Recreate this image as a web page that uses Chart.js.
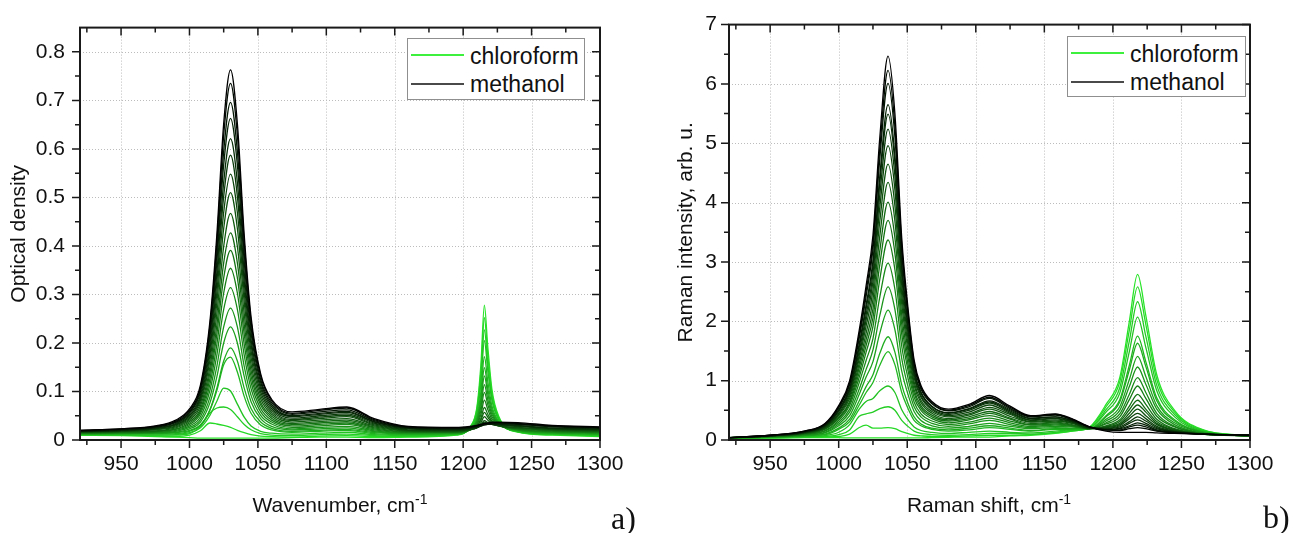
<!DOCTYPE html>
<html>
<head>
<meta charset="utf-8">
<title>Optical density and Raman spectra, chloroform / methanol</title>
<script src="https://cdn.jsdelivr.net/npm/chart.js@4.4.1/dist/chart.umd.min.js"></script>
<style>
  html, body { margin: 0; padding: 0; background: #fff; }
  body {
    position: relative; width: 1293px; height: 533px; overflow: hidden;
    font-family: 'Liberation Sans', Arial, sans-serif; color: #111;
  }
  canvas { position: absolute; top: 0; }
  #odChart { left: 0; }
  #ramanChart { left: 640px; }
  .x-title {
    position: absolute; top: 494px; font-size: 21px; line-height: 21px;
    white-space: nowrap; transform: translateX(-50%);
  }
  .x-title sup { font-size: 14px; line-height: 0; vertical-align: 8px; }
  .panel-tag {
    position: absolute; font-family: 'Liberation Serif', 'Times New Roman', serif;
    font-size: 32px; line-height: 32px;
  }
  .legend { position: absolute; box-sizing: border-box; border: 1px solid #8f8f8f; background: #fff; }
  .legend .swatch { position: absolute; left: 3px; width: 53px; height: 2px; }
  .legend .label { position: absolute; left: 62px; font-size: 23px; line-height: 23px; white-space: nowrap; }
</style>
</head>
<body>
<canvas id="odChart" width="640" height="533"></canvas>
<canvas id="ramanChart" width="653" height="533"></canvas>

<div class="x-title" style="left:340px">Wavenumber, cm<sup>-1</sup></div>
<div class="x-title" style="left:989px">Raman shift, cm<sup>-1</sup></div>
<div class="panel-tag" style="left:611px; top:502px">a)</div>
<div class="panel-tag" style="left:1263px; top:501px">b)</div>

<div class="legend" style="left:407px; top:38px; width:178px; height:62px">
  <div class="swatch" style="top:15px; background:#3ef03e"></div>
  <div class="label" style="top:6px">chloroform</div>
  <div class="swatch" style="top:44px; background:#4a4a4a"></div>
  <div class="label" style="top:34px">methanol</div>
</div>
<div class="legend" style="left:1067px; top:36px; width:179px; height:61px">
  <div class="swatch" style="top:15px; background:#3ef03e"></div>
  <div class="label" style="top:6px">chloroform</div>
  <div class="swatch" style="top:44px; background:#4a4a4a"></div>
  <div class="label" style="top:34px">methanol</div>
</div>

<script>
// panel a: IR optical density, 21 mixtures from pure chloroform (0) to pure methanol (20)
const WAVENUMBER_A = [920, 950, 975, 990, 1000, 1008, 1015, 1020, 1025, 1030, 1035, 1040, 1045, 1052, 1060,
  1075, 1095, 1115, 1135, 1160, 1195, 1205, 1210, 1213, 1215.5, 1218, 1221, 1226, 1240, 1265, 1300];

const OD_0 = [0.010, 0.009, 0.007, 0.006, 0.005, 0.004, 0.004, 0.004, 0.004, 0.004, 0.004, 0.004, 0.004, 0.004, 0.004, 0.005, 0.006, 0.006, 0.005, 0.006, 0.010, 0.027, 0.067, 0.157, 0.278, 0.192, 0.105, 0.049, 0.016, 0.010, 0.007];
const OD_1 = [0.010, 0.010, 0.008, 0.007, 0.010, 0.019, 0.035, 0.033, 0.030, 0.026, 0.020, 0.015, 0.011, 0.008, 0.007, 0.006, 0.008, 0.009, 0.007, 0.007, 0.011, 0.026, 0.063, 0.143, 0.252, 0.175, 0.097, 0.046, 0.017, 0.011, 0.008];
const OD_2 = [0.011, 0.010, 0.010, 0.010, 0.013, 0.028, 0.056, 0.066, 0.068, 0.063, 0.048, 0.032, 0.021, 0.013, 0.010, 0.009, 0.011, 0.012, 0.009, 0.008, 0.011, 0.025, 0.058, 0.130, 0.227, 0.158, 0.089, 0.044, 0.017, 0.012, 0.009];
const OD_3 = [0.011, 0.011, 0.010, 0.011, 0.015, 0.025, 0.051, 0.080, 0.107, 0.101, 0.074, 0.047, 0.029, 0.018, 0.014, 0.012, 0.014, 0.016, 0.011, 0.009, 0.012, 0.025, 0.054, 0.118, 0.205, 0.143, 0.082, 0.041, 0.018, 0.012, 0.010];
const OD_4 = [0.012, 0.012, 0.012, 0.013, 0.018, 0.030, 0.062, 0.102, 0.155, 0.171, 0.140, 0.090, 0.055, 0.031, 0.021, 0.016, 0.018, 0.020, 0.013, 0.011, 0.012, 0.023, 0.047, 0.100, 0.172, 0.121, 0.071, 0.038, 0.018, 0.013, 0.011];
const OD_5 = [0.012, 0.013, 0.013, 0.015, 0.020, 0.031, 0.063, 0.107, 0.163, 0.190, 0.163, 0.107, 0.065, 0.037, 0.024, 0.018, 0.020, 0.022, 0.015, 0.012, 0.013, 0.022, 0.043, 0.088, 0.149, 0.106, 0.064, 0.036, 0.019, 0.014, 0.012];
const OD_6 = [0.013, 0.013, 0.014, 0.016, 0.023, 0.037, 0.077, 0.130, 0.200, 0.233, 0.200, 0.131, 0.079, 0.044, 0.028, 0.021, 0.023, 0.025, 0.017, 0.013, 0.014, 0.022, 0.040, 0.079, 0.132, 0.095, 0.058, 0.034, 0.020, 0.015, 0.013];
const OD_7 = [0.013, 0.014, 0.015, 0.018, 0.026, 0.042, 0.089, 0.152, 0.233, 0.272, 0.233, 0.152, 0.092, 0.051, 0.033, 0.023, 0.026, 0.028, 0.019, 0.014, 0.014, 0.022, 0.037, 0.070, 0.114, 0.083, 0.053, 0.033, 0.021, 0.016, 0.014];
const OD_8 = [0.014, 0.015, 0.016, 0.020, 0.029, 0.048, 0.103, 0.175, 0.269, 0.314, 0.269, 0.175, 0.106, 0.058, 0.037, 0.026, 0.029, 0.032, 0.021, 0.015, 0.015, 0.021, 0.034, 0.061, 0.098, 0.073, 0.048, 0.032, 0.021, 0.017, 0.015];
const OD_9 = [0.014, 0.015, 0.017, 0.022, 0.032, 0.054, 0.115, 0.197, 0.303, 0.354, 0.303, 0.197, 0.119, 0.065, 0.041, 0.029, 0.032, 0.035, 0.023, 0.016, 0.016, 0.021, 0.031, 0.053, 0.082, 0.063, 0.043, 0.031, 0.022, 0.018, 0.016];
const OD_10 = [0.015, 0.016, 0.018, 0.023, 0.035, 0.059, 0.127, 0.218, 0.334, 0.391, 0.334, 0.218, 0.131, 0.072, 0.045, 0.032, 0.035, 0.038, 0.025, 0.017, 0.017, 0.021, 0.029, 0.045, 0.067, 0.053, 0.039, 0.030, 0.023, 0.019, 0.017];
const OD_11 = [0.015, 0.017, 0.019, 0.025, 0.038, 0.064, 0.139, 0.237, 0.365, 0.427, 0.365, 0.238, 0.143, 0.078, 0.049, 0.034, 0.038, 0.041, 0.027, 0.018, 0.017, 0.021, 0.028, 0.041, 0.057, 0.047, 0.036, 0.029, 0.024, 0.020, 0.018];
const OD_12 = [0.016, 0.018, 0.021, 0.027, 0.041, 0.070, 0.151, 0.260, 0.399, 0.467, 0.399, 0.260, 0.156, 0.085, 0.053, 0.037, 0.041, 0.044, 0.029, 0.019, 0.018, 0.021, 0.026, 0.036, 0.048, 0.041, 0.034, 0.029, 0.025, 0.021, 0.019];
const OD_13 = [0.016, 0.018, 0.022, 0.029, 0.044, 0.076, 0.165, 0.283, 0.436, 0.510, 0.436, 0.284, 0.170, 0.092, 0.057, 0.040, 0.044, 0.048, 0.031, 0.020, 0.019, 0.022, 0.025, 0.032, 0.040, 0.036, 0.032, 0.029, 0.026, 0.022, 0.020];
const OD_14 = [0.017, 0.019, 0.023, 0.031, 0.047, 0.082, 0.177, 0.304, 0.469, 0.548, 0.469, 0.305, 0.183, 0.099, 0.061, 0.042, 0.047, 0.051, 0.033, 0.021, 0.020, 0.022, 0.025, 0.031, 0.037, 0.034, 0.032, 0.030, 0.028, 0.023, 0.021];
const OD_15 = [0.018, 0.020, 0.024, 0.032, 0.050, 0.087, 0.189, 0.326, 0.502, 0.587, 0.502, 0.326, 0.196, 0.106, 0.065, 0.045, 0.050, 0.054, 0.035, 0.023, 0.021, 0.023, 0.026, 0.029, 0.034, 0.033, 0.032, 0.031, 0.029, 0.024, 0.022];
const OD_16 = [0.018, 0.020, 0.025, 0.034, 0.053, 0.092, 0.200, 0.345, 0.531, 0.621, 0.531, 0.345, 0.207, 0.112, 0.069, 0.048, 0.053, 0.057, 0.037, 0.024, 0.022, 0.024, 0.026, 0.029, 0.031, 0.032, 0.032, 0.032, 0.030, 0.025, 0.023];
const OD_17 = [0.018, 0.021, 0.026, 0.036, 0.056, 0.098, 0.214, 0.368, 0.567, 0.663, 0.567, 0.368, 0.221, 0.119, 0.073, 0.050, 0.055, 0.059, 0.038, 0.025, 0.023, 0.025, 0.027, 0.029, 0.031, 0.032, 0.032, 0.033, 0.032, 0.027, 0.024];
const OD_18 = [0.019, 0.022, 0.027, 0.037, 0.058, 0.103, 0.224, 0.386, 0.595, 0.696, 0.595, 0.386, 0.232, 0.125, 0.077, 0.053, 0.058, 0.062, 0.040, 0.026, 0.024, 0.026, 0.028, 0.030, 0.033, 0.033, 0.034, 0.035, 0.033, 0.028, 0.025];
const OD_19 = [0.020, 0.023, 0.028, 0.039, 0.061, 0.108, 0.237, 0.407, 0.628, 0.735, 0.628, 0.408, 0.245, 0.132, 0.081, 0.055, 0.061, 0.066, 0.042, 0.027, 0.025, 0.027, 0.029, 0.031, 0.033, 0.034, 0.035, 0.036, 0.034, 0.029, 0.026];
const OD_20 = [0.020, 0.023, 0.029, 0.041, 0.064, 0.113, 0.246, 0.423, 0.652, 0.763, 0.652, 0.423, 0.254, 0.137, 0.084, 0.058, 0.063, 0.068, 0.044, 0.028, 0.026, 0.028, 0.030, 0.032, 0.034, 0.035, 0.037, 0.037, 0.036, 0.030, 0.027];

// panel b: Raman spectra of the same mixtures
const WAVENUMBER_B = [920, 950, 975, 990, 1000, 1008, 1015, 1020, 1025, 1030, 1036, 1041, 1046, 1050, 1055, 1060,
  1068, 1080, 1095, 1110, 1125, 1140, 1158, 1170, 1183, 1195, 1205, 1212, 1218, 1224, 1232, 1245, 1265, 1300];

const RS_0 = [0.03, 0.035, 0.04, 0.04, 0.04, 0.035, 0.035, 0.035, 0.035, 0.035, 0.035, 0.035, 0.035, 0.035, 0.035, 0.035, 0.04, 0.045, 0.05, 0.05, 0.07, 0.08, 0.11, 0.15, 0.22, 0.60, 1.05, 2.00, 2.79, 2.10, 1.10, 0.50, 0.18, 0.07];
const RS_1 = [0.03, 0.035, 0.045, 0.05, 0.06, 0.10, 0.21, 0.25, 0.20, 0.20, 0.21, 0.19, 0.14, 0.11, 0.08, 0.07, 0.06, 0.06, 0.07, 0.08, 0.08, 0.09, 0.12, 0.15, 0.21, 0.56, 0.98, 1.85, 2.58, 1.95, 1.02, 0.47, 0.17, 0.07];
const RS_2 = [0.03, 0.037, 0.048, 0.06, 0.09, 0.17, 0.40, 0.44, 0.47, 0.53, 0.56, 0.50, 0.33, 0.24, 0.15, 0.11, 0.09, 0.08, 0.09, 0.11, 0.11, 0.10, 0.13, 0.16, 0.20, 0.51, 0.88, 1.67, 2.33, 1.75, 0.92, 0.43, 0.16, 0.07];
const RS_3 = [0.03, 0.04, 0.055, 0.075, 0.13, 0.26, 0.52, 0.65, 0.70, 0.83, 0.91, 0.80, 0.51, 0.36, 0.22, 0.16, 0.13, 0.11, 0.13, 0.15, 0.13, 0.12, 0.15, 0.17, 0.20, 0.47, 0.79, 1.49, 2.07, 1.56, 0.83, 0.39, 0.15, 0.07];
const RS_4 = [0.03, 0.05, 0.07, 0.09, 0.18, 0.31, 0.59, 0.80, 0.97, 1.26, 1.49, 1.27, 0.80, 0.56, 0.33, 0.24, 0.18, 0.15, 0.17, 0.21, 0.18, 0.15, 0.18, 0.18, 0.19, 0.41, 0.68, 1.26, 1.75, 1.32, 0.71, 0.34, 0.14, 0.07];
const RS_5 = [0.03, 0.05, 0.07, 0.10, 0.20, 0.35, 0.66, 0.90, 1.10, 1.46, 1.74, 1.48, 0.93, 0.65, 0.39, 0.27, 0.20, 0.17, 0.20, 0.24, 0.20, 0.16, 0.19, 0.19, 0.19, 0.39, 0.64, 1.18, 1.63, 1.24, 0.66, 0.32, 0.14, 0.07];
const RS_6 = [0.03, 0.05, 0.08, 0.12, 0.24, 0.41, 0.77, 1.06, 1.32, 1.80, 2.19, 1.86, 1.16, 0.81, 0.48, 0.33, 0.24, 0.20, 0.23, 0.28, 0.23, 0.19, 0.21, 0.20, 0.19, 0.35, 0.56, 1.02, 1.41, 1.07, 0.58, 0.29, 0.13, 0.07];
const RS_7 = [0.04, 0.05, 0.08, 0.13, 0.27, 0.47, 0.86, 1.19, 1.52, 2.10, 2.58, 2.20, 1.37, 0.95, 0.56, 0.39, 0.28, 0.23, 0.27, 0.33, 0.26, 0.21, 0.23, 0.22, 0.19, 0.32, 0.50, 0.90, 1.23, 0.94, 0.52, 0.26, 0.12, 0.07];
const RS_8 = [0.04, 0.06, 0.09, 0.15, 0.30, 0.52, 0.97, 1.34, 1.71, 2.41, 2.98, 2.54, 1.58, 1.10, 0.64, 0.44, 0.32, 0.26, 0.30, 0.37, 0.29, 0.23, 0.25, 0.23, 0.19, 0.29, 0.44, 0.77, 1.05, 0.80, 0.45, 0.23, 0.11, 0.07];
const RS_9 = [0.04, 0.06, 0.10, 0.16, 0.33, 0.58, 1.06, 1.48, 1.91, 2.71, 3.37, 2.87, 1.78, 1.24, 0.72, 0.50, 0.36, 0.29, 0.34, 0.41, 0.32, 0.25, 0.27, 0.24, 0.19, 0.27, 0.39, 0.68, 0.91, 0.70, 0.40, 0.22, 0.11, 0.07];
const RS_10 = [0.04, 0.06, 0.10, 0.18, 0.36, 0.62, 1.14, 1.59, 2.06, 2.96, 3.70, 3.15, 1.95, 1.35, 0.79, 0.54, 0.39, 0.32, 0.36, 0.45, 0.35, 0.26, 0.29, 0.25, 0.19, 0.24, 0.34, 0.57, 0.77, 0.60, 0.35, 0.19, 0.11, 0.07];
const RS_11 = [0.04, 0.06, 0.11, 0.19, 0.38, 0.65, 1.22, 1.69, 2.21, 3.19, 4.01, 3.41, 2.11, 1.47, 0.85, 0.58, 0.42, 0.34, 0.39, 0.48, 0.37, 0.28, 0.30, 0.26, 0.19, 0.23, 0.31, 0.51, 0.67, 0.52, 0.31, 0.18, 0.10, 0.07];
const RS_12 = [0.04, 0.07, 0.11, 0.20, 0.41, 0.70, 1.29, 1.80, 2.37, 3.44, 4.34, 3.69, 2.29, 1.59, 0.92, 0.63, 0.45, 0.36, 0.42, 0.52, 0.40, 0.30, 0.32, 0.28, 0.19, 0.22, 0.28, 0.45, 0.59, 0.47, 0.28, 0.17, 0.10, 0.07];
const RS_13 = [0.04, 0.07, 0.12, 0.21, 0.43, 0.74, 1.37, 1.92, 2.52, 3.69, 4.65, 3.95, 2.45, 1.70, 0.98, 0.67, 0.48, 0.39, 0.44, 0.55, 0.43, 0.31, 0.34, 0.29, 0.20, 0.21, 0.26, 0.40, 0.52, 0.41, 0.26, 0.16, 0.10, 0.07];
const RS_14 = [0.04, 0.07, 0.12, 0.22, 0.45, 0.78, 1.43, 2.02, 2.67, 3.92, 4.96, 4.22, 2.61, 1.81, 1.05, 0.72, 0.51, 0.41, 0.47, 0.59, 0.45, 0.33, 0.36, 0.30, 0.20, 0.20, 0.24, 0.36, 0.45, 0.36, 0.23, 0.15, 0.10, 0.08];
const RS_15 = [0.04, 0.07, 0.13, 0.23, 0.48, 0.82, 1.50, 2.11, 2.80, 4.13, 5.24, 4.45, 2.76, 1.91, 1.10, 0.75, 0.53, 0.43, 0.50, 0.62, 0.47, 0.34, 0.37, 0.31, 0.20, 0.19, 0.22, 0.31, 0.39, 0.32, 0.21, 0.14, 0.10, 0.08];
const RS_16 = [0.04, 0.07, 0.13, 0.24, 0.50, 0.85, 1.57, 2.21, 2.93, 4.33, 5.49, 4.67, 2.89, 2.00, 1.15, 0.79, 0.56, 0.45, 0.52, 0.64, 0.49, 0.36, 0.39, 0.32, 0.21, 0.18, 0.20, 0.28, 0.34, 0.28, 0.19, 0.14, 0.10, 0.08];
const RS_17 = [0.04, 0.07, 0.14, 0.25, 0.51, 0.88, 1.62, 2.28, 3.02, 4.45, 5.65, 4.80, 2.97, 2.06, 1.19, 0.81, 0.57, 0.46, 0.53, 0.66, 0.51, 0.37, 0.39, 0.33, 0.21, 0.17, 0.19, 0.24, 0.29, 0.25, 0.17, 0.13, 0.10, 0.08];
const RS_18 = [0.04, 0.08, 0.14, 0.26, 0.54, 0.93, 1.72, 2.42, 3.21, 4.74, 6.01, 5.11, 3.16, 2.19, 1.26, 0.86, 0.61, 0.49, 0.56, 0.70, 0.53, 0.39, 0.42, 0.34, 0.22, 0.17, 0.17, 0.22, 0.25, 0.22, 0.16, 0.13, 0.10, 0.08];
const RS_19 = [0.04, 0.08, 0.15, 0.27, 0.56, 0.96, 1.78, 2.51, 3.32, 4.91, 6.23, 5.29, 3.27, 2.27, 1.30, 0.89, 0.63, 0.50, 0.58, 0.72, 0.55, 0.40, 0.43, 0.35, 0.22, 0.17, 0.16, 0.19, 0.21, 0.19, 0.15, 0.12, 0.10, 0.08];
const RS_20 = [0.04, 0.08, 0.15, 0.28, 0.58, 1.00, 1.85, 2.60, 3.45, 5.10, 6.47, 5.50, 3.40, 2.35, 1.35, 0.92, 0.65, 0.52, 0.60, 0.75, 0.57, 0.41, 0.44, 0.36, 0.22, 0.15, 0.13, 0.13, 0.13, 0.13, 0.12, 0.11, 0.10, 0.08];

const X_TICKS = [950, 1000, 1050, 1100, 1150, 1200, 1250, 1300];
const X_MINOR = [925, 975, 1025, 1075, 1125, 1175, 1225, 1275];
const OD_TICKS = [0, 0.1, 0.2, 0.3, 0.4, 0.5, 0.6, 0.7, 0.8];
const OD_MINOR = [0.05, 0.15, 0.25, 0.35, 0.45, 0.55, 0.65, 0.75];
const RS_TICKS = [0, 1, 2, 3, 4, 5, 6, 7];
const RS_MINOR = [0.5, 1.5, 2.5, 3.5, 4.5, 5.5, 6.5];

const OD_CURVES = [OD_0, OD_1, OD_2, OD_3, OD_4, OD_5, OD_6, OD_7, OD_8, OD_9, OD_10,
  OD_11, OD_12, OD_13, OD_14, OD_15, OD_16, OD_17, OD_18, OD_19, OD_20];
const RS_CURVES = [RS_0, RS_1, RS_2, RS_3, RS_4, RS_5, RS_6, RS_7, RS_8, RS_9, RS_10,
  RS_11, RS_12, RS_13, RS_14, RS_15, RS_16, RS_17, RS_18, RS_19, RS_20];

const FONT = "'Liberation Sans', Arial, Helvetica, sans-serif";

// green for chloroform-rich, fading to black for methanol-rich
function curveColor(i, n) {
  const t = 1 - i / (n - 1);
  return `rgb(${Math.round(40 * t)}, ${Math.round(228 * t)}, ${Math.round(40 * t)})`;
}

function buildDatasets(xs, curves) {
  return curves.map((ys, i) => ({
    label: `mixture ${i}`,
    data: xs.map((x, k) => ({ x, y: ys[k] })),
    borderColor: curveColor(i, curves.length),
    borderWidth: 1.3,
    pointRadius: 0,
    cubicInterpolationMode: 'monotone',
    order: curves.length - i, // methanol-rich curves end up on top
  }));
}

// dotted grid, black box, Origin-style ticks: outward on bottom/left, inward on top/right
const axisFrame = {
  id: 'axisFrame',
  beforeDatasetsDraw(chart, args, opts) {
    const { ctx, chartArea: a, scales: { x, y } } = chart;
    ctx.save();
    ctx.strokeStyle = '#bcbcbc';
    ctx.lineWidth = 1;
    ctx.setLineDash([1, 2]);
    ctx.beginPath();
    opts.xMajor.forEach((v) => {
      const px = Math.round(x.getPixelForValue(v)) + 0.5;
      if (px < a.left + 2 || px > a.right - 2) return;
      ctx.moveTo(px, a.top);
      ctx.lineTo(px, a.bottom);
    });
    opts.yMajor.forEach((v) => {
      const py = Math.round(y.getPixelForValue(v)) + 0.5;
      if (py < a.top + 2 || py > a.bottom - 2) return;
      ctx.moveTo(a.left, py);
      ctx.lineTo(a.right, py);
    });
    ctx.stroke();
    ctx.restore();
  },
  afterDatasetsDraw(chart, args, opts) {
    const { ctx, chartArea: a, scales: { x, y } } = chart;
    ctx.save();
    ctx.strokeStyle = '#1a1a1a';
    ctx.lineWidth = 2;
    ctx.strokeRect(a.left, a.top, a.right - a.left, a.bottom - a.top);
    ctx.lineWidth = 1.5;
    ctx.beginPath();
    const xTick = (v, len) => {
      const px = x.getPixelForValue(v);
      ctx.moveTo(px, a.bottom);
      ctx.lineTo(px, a.bottom + len);
      ctx.moveTo(px, a.top);
      ctx.lineTo(px, a.top + len);
    };
    const yTick = (v, len) => {
      const py = y.getPixelForValue(v);
      ctx.moveTo(a.left, py);
      ctx.lineTo(a.left - len, py);
      ctx.moveTo(a.right, py);
      ctx.lineTo(a.right - len, py);
    };
    opts.xMajor.forEach((v) => xTick(v, 8));
    opts.xMinor.forEach((v) => xTick(v, 5));
    opts.yMajor.forEach((v) => yTick(v, 8));
    opts.yMinor.forEach((v) => yTick(v, 5));
    ctx.stroke();
    ctx.restore();
  },
};

function makeChart(canvasId, cfg) {
  return new Chart(document.getElementById(canvasId), {
    type: 'line',
    data: { datasets: buildDatasets(cfg.xs, cfg.curves) },
    plugins: [axisFrame],
    options: {
      responsive: false,
      animation: false,
      devicePixelRatio: 1,
      events: [],
      layout: { padding: cfg.padding },
      plugins: {
        legend: { display: false },
        tooltip: { enabled: false },
        axisFrame: { xMajor: X_TICKS, xMinor: X_MINOR, yMajor: cfg.yTicks, yMinor: cfg.yMinor },
      },
      scales: {
        x: {
          type: 'linear',
          min: 920,
          max: 1300,
          afterBuildTicks: (s) => { s.ticks = X_TICKS.map((value) => ({ value })); },
          afterFit: (s) => { s.height = 93; },
          ticks: {
            font: { family: FONT, size: 21 },
            color: '#111',
            padding: 12,
            maxRotation: 0,
            autoSkip: false,
            callback: (v) => String(v),
          },
          grid: { display: false, drawTicks: false },
          border: { display: false },
        },
        y: {
          type: 'linear',
          min: 0,
          max: cfg.yMax,
          afterBuildTicks: (s) => { s.ticks = cfg.yTicks.map((value) => ({ value })); },
          afterFit: (s) => { s.width = cfg.yWidth; },
          ticks: {
            font: { family: FONT, size: 21 },
            color: '#111',
            padding: cfg.yPad,
            autoSkip: false,
            callback: cfg.yLabel,
          },
          title: {
            display: true,
            text: cfg.yTitle,
            font: { family: FONT, size: 21, weight: 'normal' },
            color: '#111',
            padding: { top: cfg.titlePad, bottom: 0 },
          },
          grid: { display: false, drawTicks: false },
          border: { display: false },
        },
      },
    },
  });
}

makeChart('odChart', {
  xs: WAVENUMBER_A,
  curves: OD_CURVES,
  padding: { left: 0, right: 40, top: 24, bottom: 0 },
  yMax: 0.85,
  yTicks: OD_TICKS,
  yMinor: OD_MINOR,
  yWidth: 80,
  yPad: 15,
  yLabel: (v) => (v === 0 ? '0' : v.toFixed(1)),
  yTitle: 'Optical density',
  titlePad: 7,
});

makeChart('ramanChart', {
  xs: WAVENUMBER_B,
  curves: RS_CURVES,
  padding: { left: 30, right: 43, top: 24, bottom: 0 },
  yMax: 7,
  yTicks: RS_TICKS,
  yMinor: RS_MINOR,
  yWidth: 59,
  yPad: 12,
  yLabel: (v) => String(v),
  yTitle: 'Raman intensity, arb. u.',
  titlePad: 4,
});
</script>
</body>
</html>
